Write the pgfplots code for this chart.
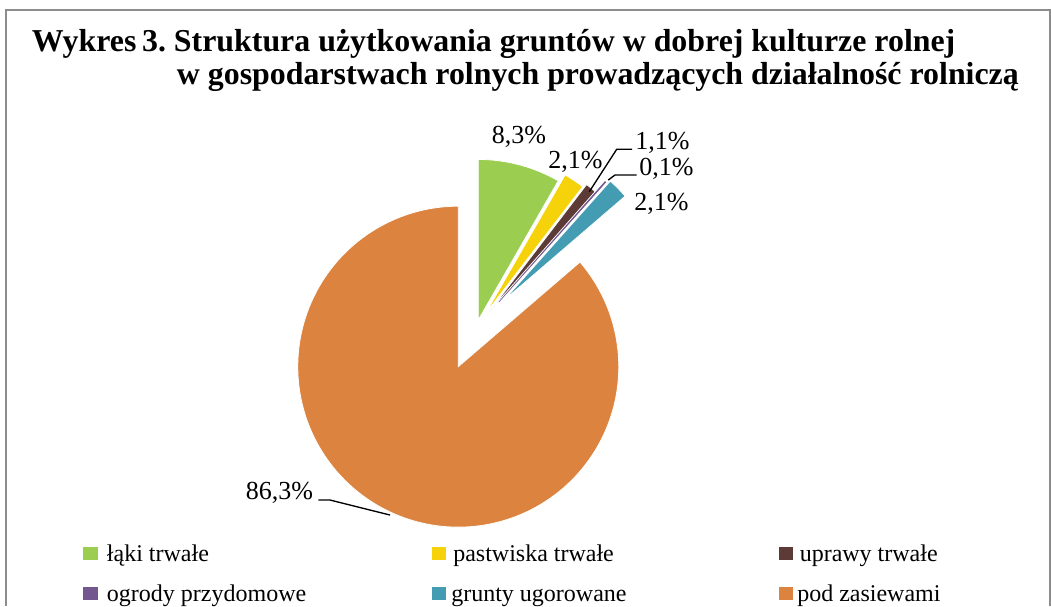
\documentclass[border=0pt]{standalone}
\usepackage{fontspec}
\setmainfont{Liberation Serif}
\usepackage{pgfplots}
\pgfplotsset{compat=1.18}
\definecolor{cGreen}{RGB}{154,205,80}
\definecolor{cYellow}{RGB}{246,210,10}
\definecolor{cBrown}{RGB}{92,59,54}
\definecolor{cPurple}{RGB}{116,87,143}
\definecolor{cTeal}{RGB}{67,156,178}
\definecolor{cOrange}{RGB}{220,132,63}
\definecolor{cFrame}{RGB}{140,140,140}

% values (percent)
\def\vA{8.3}  % laki trwale
\def\vB{2.1}  % pastwiska trwale
\def\vC{1.1}  % uprawy trwale
\def\vD{0.1}  % ogrody przydomowe
\def\vE{2.1}  % grunty ugorowane
\def\vF{86.3} % pod zasiewami

\def\cx{476.3}\def\cy{327.4}\def\R{160.5}

\newcommand\defvertex[4]{%
  \pgfmathsetmacro\tmpm{(#2+#3)/2}%
  \pgfmathsetmacro\tmpx{\cx+#4*cos(\tmpm)}%
  \pgfmathsetmacro\tmpy{\cy-#4*sin(\tmpm)}%
  \expandafter\let\csname vx#1\endcsname\tmpx
  \expandafter\let\csname vy#1\endcsname\tmpy}

\pgfmathsetmacro\aA{90}
\pgfmathsetmacro\aB{\aA-3.6*\vA}
\pgfmathsetmacro\aC{\aB-3.6*\vB}
\pgfmathsetmacro\aD{\aC-3.6*\vC}
\pgfmathsetmacro\aE{\aD-3.6*\vD}
\pgfmathsetmacro\aF{\aE-3.6*\vE}
\pgfmathsetmacro\aG{\aF-3.6*\vF}
\defvertex{A}{\aA}{\aB}{7.7}
\defvertex{B}{\aB}{\aC}{16}
\defvertex{C}{\aC}{\aD}{20}
\defvertex{D}{\aD}{\aE}{34}
\defvertex{E}{\aE}{\aF}{38}
\defvertex{F}{\aF}{\aG}{43.2}

\begin{document}%
\frenchspacing%
\begin{tikzpicture}
\begin{axis}[
  width=788.25pt, height=454.5pt, scale only axis,
  xmin=0, xmax=1051, ymin=0, ymax=606, y dir=reverse,
  hide axis, clip=false,
]
\path (axis cs:0,0) rectangle (axis cs:1051,606);
\draw[cFrame, line width=1.3pt] (axis cs:6,606) -- (axis cs:6,10) -- (axis cs:1050,10) -- (axis cs:1050,606);

\addplot[fill=cGreen, draw=white, line width=0.6pt, domain=\aB:\aA, samples=30, variable=\t]
  ({\vxA+\R*cos(\t)}, {\vyA-\R*sin(\t)}) -- (axis cs:\vxA,\vyA) -- cycle;
\addplot[fill=cYellow, draw=white, line width=0.6pt, domain=\aC:\aB, samples=10, variable=\t]
  ({\vxB+\R*cos(\t)}, {\vyB-\R*sin(\t)}) -- (axis cs:\vxB,\vyB) -- cycle;
\addplot[fill=cBrown, draw=white, line width=0.6pt, domain=\aD:\aC, samples=8, variable=\t]
  ({\vxC+\R*cos(\t)}, {\vyC-\R*sin(\t)}) -- (axis cs:\vxC,\vyC) -- cycle;
\addplot[fill=cPurple, draw=cPurple, line width=0.4pt, domain=\aE:\aD, samples=3, variable=\t]
  ({\vxD+\R*cos(\t)}, {\vyD-\R*sin(\t)}) -- (axis cs:\vxD,\vyD) -- cycle;
\addplot[fill=cTeal, draw=white, line width=0.6pt, domain=\aF:\aE, samples=10, variable=\t]
  ({\vxE+\R*cos(\t)}, {\vyE-\R*sin(\t)}) -- (axis cs:\vxE,\vyE) -- cycle;
\addplot[fill=cOrange, draw=white, line width=0.6pt, domain=\aG:\aF, samples=160, variable=\t]
  ({\vxF+\R*cos(\t)}, {\vyF-\R*sin(\t)}) -- (axis cs:\vxF,\vyF) -- cycle;

% title
\node[anchor=base west, inner sep=0pt, font=\fontsize{23.9pt}{28pt}\selectfont\bfseries]
  at (axis cs:31.7,51.7) {Wykres\hspace{0.18em}3. Struktura użytkowania gruntów w dobrej kulturze rolnej};
\node[anchor=base west, inner sep=0pt, font=\fontsize{23.9pt}{28pt}\selectfont\bfseries]
  at (axis cs:176.7,84.3) {w gospodarstwach rolnych prowadzących działalność rolniczą};

% data labels
\begin{scope}[every node/.style={inner sep=0pt, font=\fontsize{19.5pt}{23pt}\selectfont}]
\node[anchor=base] at (axis cs:519,143.3) {8,3\%};
\node[anchor=base] at (axis cs:575.5,168) {2,1\%};
\node[anchor=base west] at (axis cs:635,149) {1,1\%};
\node[anchor=base west] at (axis cs:639,175.5) {0,1\%};
\node[anchor=base west] at (axis cs:634,210.5) {2,1\%};
\node[anchor=base east] at (axis cs:313.3,499.3) {86,3\%};
\end{scope}
\draw[black, line width=1pt] (axis cs:589.3,191.7) -- (axis cs:616.7,149.3) -- (axis cs:632,149.3);
\draw[black, line width=1pt] (axis cs:608.3,180) -- (axis cs:615,175) -- (axis cs:636.7,175);
\draw[black, line width=1pt] (axis cs:390,515) -- (axis cs:330,500) -- (axis cs:318.3,500);

% legend
\begin{scope}[every node/.style={inner sep=0pt, anchor=base west, font=\fontsize{18pt}{22pt}\selectfont}]
\fill[cGreen]  (axis cs:83.3,546.7) rectangle (axis cs:97.7,560);
\node at (axis cs:106.7,561.7) {łąki trwałe};
\fill[cYellow] (axis cs:432,546.7) rectangle (axis cs:446.4,560);
\node at (axis cs:453,561.7) {pastwiska trwałe};
\fill[cBrown]  (axis cs:778.7,546.7) rectangle (axis cs:793.1,560);
\node at (axis cs:799.5,561.7) {uprawy trwałe};
\fill[cPurple] (axis cs:83.3,586.7) rectangle (axis cs:97.7,600);
\node at (axis cs:106.7,601.7) {ogrody przydomowe};
\fill[cTeal]   (axis cs:432,586.7) rectangle (axis cs:446.4,600);
\node at (axis cs:451,601.7) {grunty ugorowane};
\fill[cOrange] (axis cs:778.7,586.7) rectangle (axis cs:793.1,600);
\node at (axis cs:797,601.7) {pod zasiewami};
\end{scope}
\end{axis}
\end{tikzpicture}%
\end{document}
